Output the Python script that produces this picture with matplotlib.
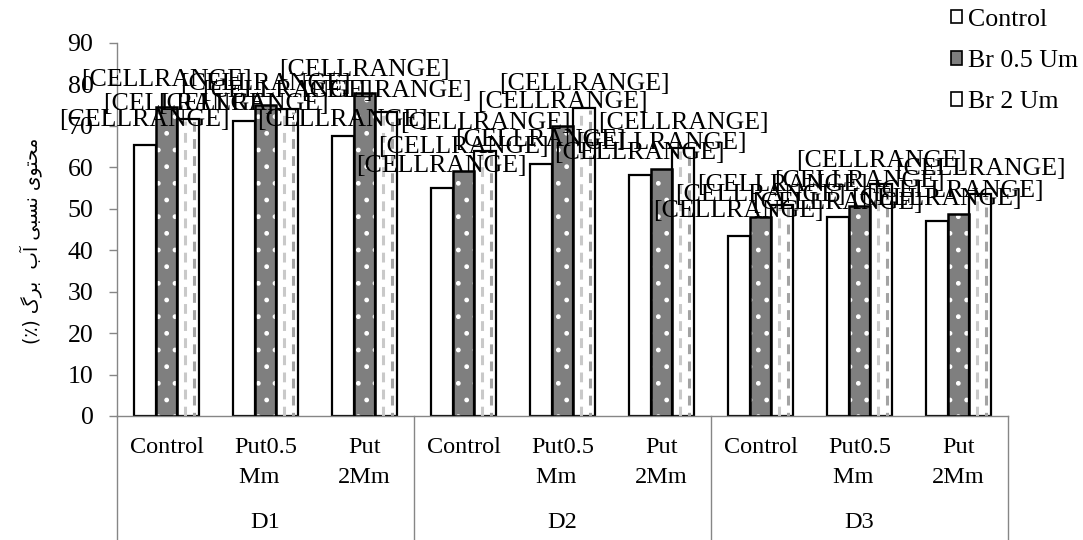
import numpy as np
import matplotlib
matplotlib.use("Agg")
import matplotlib.pyplot as plt
from matplotlib.patches import Rectangle

# ---------------- data ----------------
groups = ["D1", "D2", "D3"]
subcats = ["Control", "Put0.5\nMm  ", "Put\n2Mm"]
series_names = ["Control", "Br 0.5 Um", "Br 2 Um"]
control_vals = [65.4, 71.3, 67.6, 54.9, 60.9, 58.2, 43.5, 48.1, 47.1]
br05_vals = [74.6, 75.0, 77.9, 59.0, 70.0, 59.7, 47.9, 50.7, 48.7]
br2_vals = [71.7, 74.0, 73.4, 64.0, 74.4, 64.6, 51.0, 56.0, 53.5]
label_text = "[CELLRANGE]"
yticks = list(range(0, 91, 10))

# label rise above bar top (pixels) - layout only
rise_control = [28, 20, 19, 26, 27, 25, 28, 17, 25]
rise_br05 = [30, 25, 27, 28, 27, 29, 26, 28, 27]
rise_br2 = [18, 22, 24, 31, 27, 29, 23, 26, 29]

W, H, DPI = 1083, 540, 100
SERIF = "Liberation Serif"
FS = 18.6

fig = plt.figure(figsize=(W / DPI, H / DPI), dpi=DPI)
L, R, T, B = 117, 1008, 43, 416
ax = fig.add_axes([L / W, 1 - B / H, (R - L) / W, (B - T) / H])

n = len(control_vals)
x = np.arange(n)
bw = 0.222

# Control bars (white)
ax.bar(x - bw, control_vals, bw, color="white", edgecolor="black", linewidth=1.6, zorder=2)
# Br 0.5 bars (gray with white dots)
ax.bar(x, br05_vals, bw, color="#7f7f7f", edgecolor="white", linewidth=0, hatch=".", zorder=2)
ax.bar(x, br05_vals, bw, fill=False, edgecolor="black", linewidth=1.8, zorder=3)
# Br 2 bars (white with gray dashes)
ax.bar(x + bw, br2_vals, bw, color="white", edgecolor="black", linewidth=1.6, zorder=2)
ax.vlines(x + bw - bw * 0.18, 0, np.array(br2_vals) - 0.6, colors="#c9c9c9",
          linestyles=(0, (3.2, 2.4)), linewidth=2.2, zorder=2.5)
ax.vlines(x + bw + bw * 0.25, 0, np.array(br2_vals) - 0.6, colors="#a3a3a3",
          linestyles=(2, (3.2, 2.4)), linewidth=2.2, zorder=2.5)

# data labels
for vals, rises, off in ((control_vals, rise_control, -bw), (br05_vals, rise_br05, 0.0),
                         (br2_vals, rise_br2, bw)):
    for i, (v, r) in enumerate(zip(vals, rises)):
        ax.annotate(label_text, xy=(x[i] + off, v), xytext=(0, (r - 3.5) * 72 / DPI),
                    textcoords="offset points", ha="center", va="center",
                    fontsize=FS, family=SERIF, color="black", zorder=5,
                    annotation_clip=False)

ax.set_xlim(-0.5, n - 0.5)
ax.set_ylim(0, 90)
ax.set_yticks(yticks)
ax.set_yticklabels([str(t) for t in yticks], fontsize=FS, family=SERIF)
ax.tick_params(axis="y", direction="out", length=6, width=1, color="#868686", pad=11)
ax.set_xticks([])
for s in ("top", "right"):
    ax.spines[s].set_visible(False)
ax.spines["left"].set_color("#868686")
ax.spines["bottom"].set_color("#868686")
ax.spines["left"].set_linewidth(1)
ax.spines["bottom"].set_linewidth(1)

# multi-level category axis
trans = ax.get_xaxis_transform()
for i in range(n):
    ax.text(x[i], -0.055, subcats[i % 3], transform=trans, ha="center", va="top",
            fontsize=17.5, family=SERIF, linespacing=1.6)
for g, name in enumerate(groups):
    ax.text(g * 3 + 1, -0.257, name, transform=trans, ha="center", va="top",
            fontsize=17.5, family=SERIF)
for b in range(len(groups) + 1):
    ax.plot([b * 3 - 0.5, b * 3 - 0.5], [0, -0.34], transform=trans, color="#868686",
            linewidth=1, clip_on=False)

# y label (Persian, pre-shaped presentation forms in visual order)
ylab = ("(\u066A) " + "\uFB92\uFEAE\uFE91" + "  " + "\uFE8F\uFE81" + " " +
        "\uFEF0\uFE92\uFEB4\uFEE7" + " " + "\uFEEF\uFEEE\uFE98\uFEA4\uFEE3")
ax.set_ylabel(ylab, fontsize=13.5, family=["DejaVu Sans"])
ax.yaxis.set_label_coords(-0.084, 0.47)

# legend
handles = [Rectangle((0, 0), 1, 1, facecolor="white", edgecolor="black", linewidth=1.2),
           Rectangle((0, 0), 1, 1, facecolor="#7f7f7f", edgecolor="black", linewidth=1.2),
           Rectangle((0, 0), 1, 1, facecolor="white", edgecolor="black", linewidth=1.2)]
fig.legend(handles, series_names, loc="upper left", bbox_to_anchor=(951 / W, 1 - 9 / H),
           frameon=False, borderpad=0, borderaxespad=0, handlelength=0.42,
           handleheight=0.42, handletextpad=0.25, labelspacing=0.74,
           prop={"family": SERIF, "size": FS})

fig.savefig("out.png", dpi=DPI)
